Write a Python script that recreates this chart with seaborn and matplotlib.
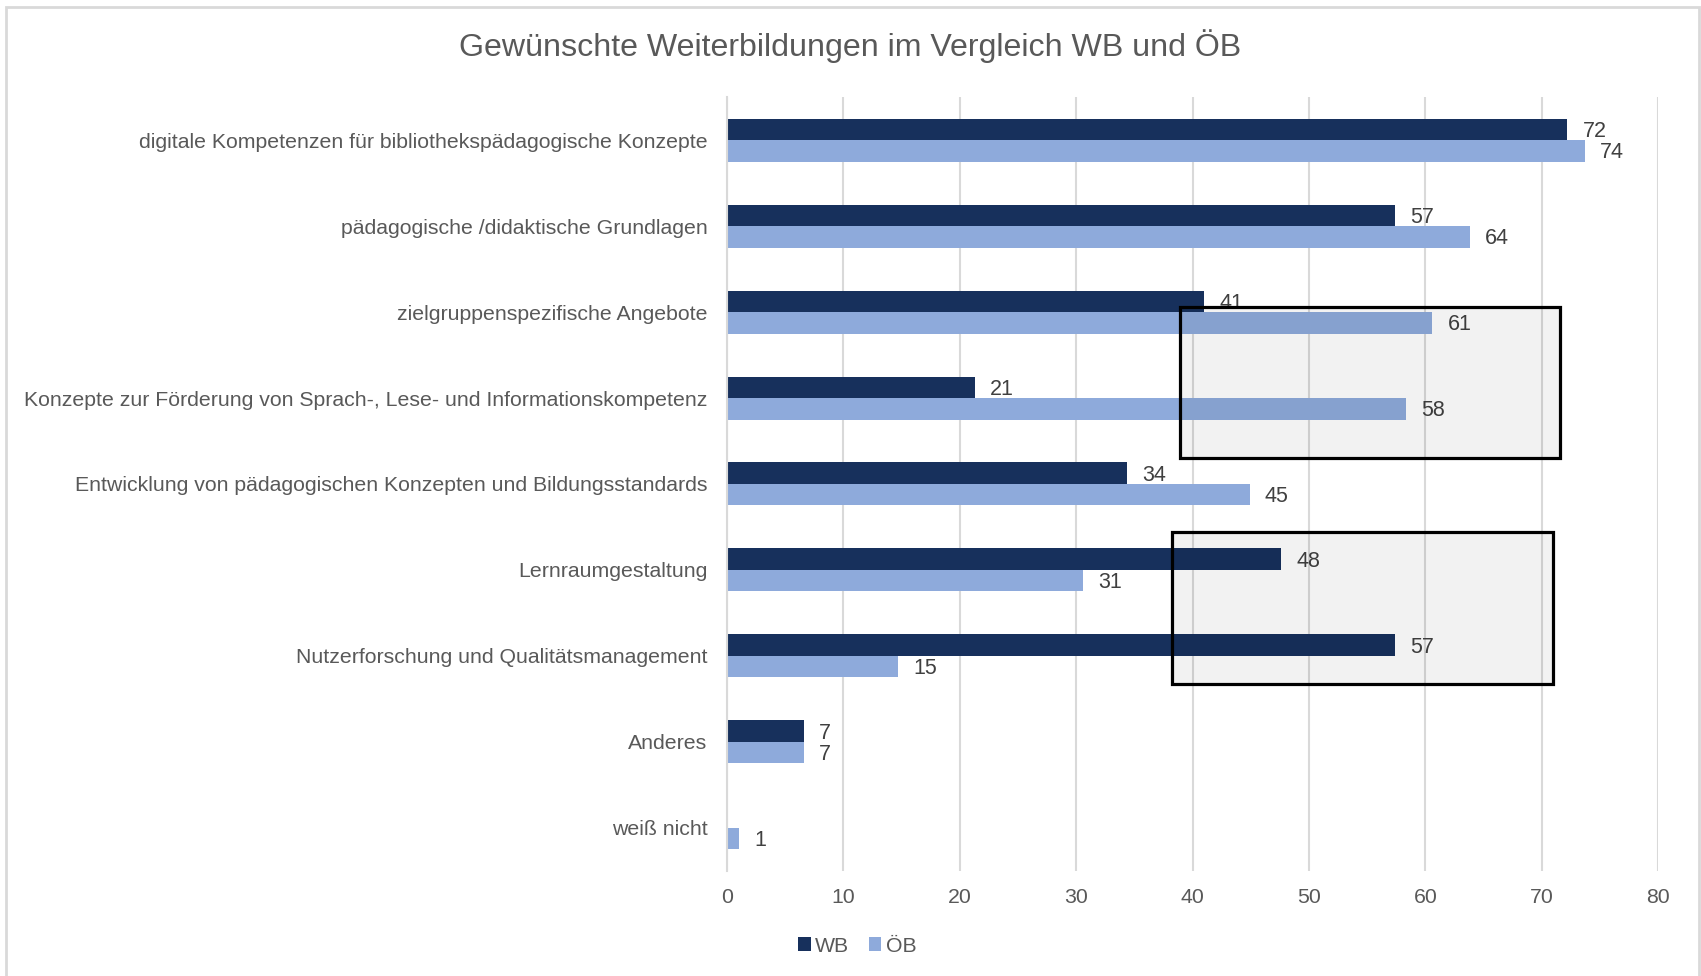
import matplotlib
matplotlib.use("Agg")
import matplotlib.pyplot as plt
from matplotlib.patches import Rectangle, Patch
import seaborn as sns
import pandas as pd

# data (labels shown rounded)
categories = [
    "digitale Kompetenzen für bibliothekspädagogische Konzepte",
    "pädagogische /didaktische Grundlagen",
    "zielgruppenspezifische Angebote",
    "Konzepte zur Förderung von Sprach-, Lese- und Informationskompetenz",
    "Entwicklung von pädagogischen Konzepten und Bildungsstandards",
    "Lernraumgestaltung",
    "Nutzerforschung und Qualitätsmanagement",
    "Anderes",
    "weiß nicht",
]
wb_values = [72.2, 57.4, 41.0, 21.3, 34.4, 47.6, 57.4, 6.6, 0.0]
oeb_values = [73.7, 63.8, 60.6, 58.3, 44.9, 30.6, 14.7, 6.6, 1.0]
series_names = ["WB", "ÖB"]
colors = ["#17305C", "#8EAADB"]

# highlight boxes: (x0, x1, category index top, category index bottom)
boxes = [(38.9, 71.6, 1.94, 3.70), (38.2, 71.0, 4.56, 6.32)]

df = pd.DataFrame({
    "Kategorie": categories * 2,
    "Wert": wb_values + oeb_values,
    "Gruppe": [series_names[0]] * len(categories) + [series_names[1]] * len(categories),
})

sns.set_style("white")
plt.rcParams["font.family"] = ["Liberation Sans", "DejaVu Sans"]

fig = plt.figure(figsize=(17.01, 9.76), dpi=100)
ax = fig.add_axes([0.4274, 0.1076, 0.5474, 0.793])

sns.barplot(data=df, y="Kategorie", x="Wert", hue="Gruppe", orient="h",
            palette=colors, width=0.5, ax=ax, order=categories,
            hue_order=series_names, saturation=1, errorbar=None, linewidth=0)

# value labels, hide zero bars
for cont in ax.containers:
    labels = ["" if b.get_width() == 0 else f"{b.get_width():.0f}" for b in cont]
    texts = ax.bar_label(cont, labels=labels, padding=11, fontsize=15.5, color="#404040")
    for t in texts:
        t.xyann = (t.xyann[0], -1.5)

ax.set_xlim(0, 80)
ax.set_ylim(8.5, -0.5)
ax.set_xticks(range(0, 81, 10))
ax.xaxis.grid(True, color="#d9d9d9", linewidth=1.5)
ax.set_axisbelow(True)
ax.set_xlabel("")
ax.set_ylabel("")
for side in ["top", "right", "bottom"]:
    ax.spines[side].set_visible(False)
ax.spines["left"].set_color("#d9d9d9")
ax.spines["left"].set_linewidth(1.5)
ax.tick_params(axis="y", length=0, pad=14, labelsize=15.3, labelcolor="#595959")
ax.tick_params(axis="x", length=0, pad=12, labelsize=15.3, labelcolor="#595959")
ax.get_legend().remove()

# grey highlight boxes on top of the bars
for x0, x1, y0, y1 in boxes:
    ax.add_patch(Rectangle((x0, y0), x1 - x0, y1 - y0, facecolor=(0, 0, 0, 0.05),
                           edgecolor="black", linewidth=2.3, zorder=5))

fig.suptitle("Gewünschte Weiterbildungen im Vergleich WB und ÖB",
             x=0.5, y=1 - 46.5 / 976, va="center", fontsize=23.1, color="#595959")

handles = [Patch(facecolor=c, edgecolor="none") for c in colors]
fig.legend(handles, series_names, loc="center", bbox_to_anchor=(0.504, 1 - 946 / 976),
           ncol=2, frameon=False, fontsize=15.3, labelcolor="#595959",
           handlelength=0.6, handleheight=0.6, handletextpad=0.2, columnspacing=0.9)

# light frame around the chart area
fig.add_artist(Rectangle((6 / 1701, -0.1), (1699 - 6) / 1701, 1 - 7 / 976 + 0.1,
                         transform=fig.transFigure, fill=False,
                         edgecolor="#d9d9d9", linewidth=2))

fig.savefig("out.png", dpi=100)
